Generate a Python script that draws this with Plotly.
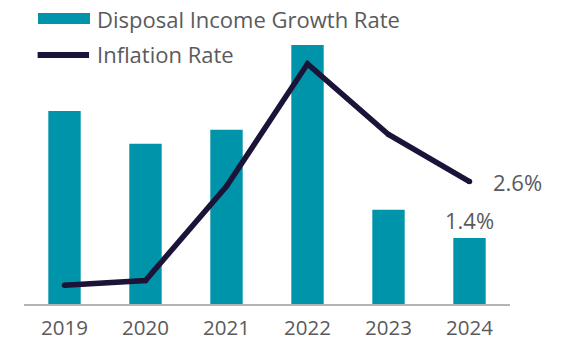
import plotly.graph_objects as go

# Annual rates, percent
years = ["2019", "2020", "2021", "2022", "2023", "2024"]
income_growth = [4.1, 3.4, 3.7, 5.5, 2.0, 1.4]
inflation = [0.4, 0.5, 2.5, 5.1, 3.6, 2.6]

series_names = ["Disposal Income Growth Rate", "Inflation Rate"]

TEAL = "#0094AA"
NAVY = "#1B1438"
TEXT = "#5a5a5c"
FONT = "Open Sans"
FS = 22

# one slot per year on a linear axis, labelled with the year
pos = list(range(len(years)))

fig = go.Figure()

fig.add_trace(go.Bar(
    x=pos, y=income_growth, name=series_names[0],
    marker=dict(color=TEAL, line=dict(width=0)),
    width=0.4, showlegend=False,
))

fig.add_trace(go.Scatter(
    x=pos, y=inflation, name=series_names[1],
    mode="lines+markers",
    line=dict(color=NAVY, width=5.5),
    marker=dict(color=NAVY, size=5.5),
    showlegend=False,
))

# Value callouts for the latest year
fig.add_annotation(x=pos[-1], y=inflation[-1], text=f"{inflation[-1]}%",
                   showarrow=False, xanchor="left", yanchor="middle", xshift=21,
                   font=dict(family=FONT, size=FS, color=TEXT))
fig.add_annotation(x=pos[-1], y=income_growth[-1], text=f"{income_growth[-1]}%",
                   showarrow=False, xanchor="center", yanchor="bottom", yshift=1,
                   font=dict(family=FONT, size=FS, color=TEXT))

# Custom legend: wide swatches with labels
fig.add_shape(type="rect", xref="paper", yref="paper",
              x0=0.0288, x1=0.1358, y0=0.9589, y1=0.9966,
              fillcolor=TEAL, line=dict(width=0))
fig.add_shape(type="line", xref="paper", yref="paper",
              x0=0.028, x1=0.1338, y0=0.8527, y1=0.8527,
              line=dict(color=NAVY, width=6))
fig.add_annotation(xref="paper", yref="paper", x=0.146, y=0.976,
                   text=series_names[0], showarrow=False,
                   xanchor="left", yanchor="middle",
                   font=dict(family=FONT, size=FS, color=TEXT))
fig.add_annotation(xref="paper", yref="paper", x=0.146, y=0.856,
                   text=series_names[1], showarrow=False,
                   xanchor="left", yanchor="middle",
                   font=dict(family=FONT, size=FS, color=TEXT))

fig.update_layout(
    width=567, height=341,
    margin=dict(l=24, r=57, t=12, b=37, autoexpand=False),
    paper_bgcolor="white", plot_bgcolor="white",
    font=dict(family=FONT, size=FS, color=TEXT),
)
fig.update_xaxes(
    range=[-0.5, len(years) - 0.5],
    tickmode="array", tickvals=pos, ticktext=years,
    automargin=False,
    showline=True, linecolor="#b3b3b3", linewidth=1.5,
    showgrid=False, zeroline=False,
    ticks="outside", ticklen=5, tickcolor="rgba(0,0,0,0)",
    tickfont=dict(family=FONT, size=20.5, color=TEXT),
)
fig.update_yaxes(
    range=[0, 6.2], visible=False, showgrid=False, zeroline=False,
    automargin=False,
)

fig.write_html("out.html", config={"displayModeBar": False})
